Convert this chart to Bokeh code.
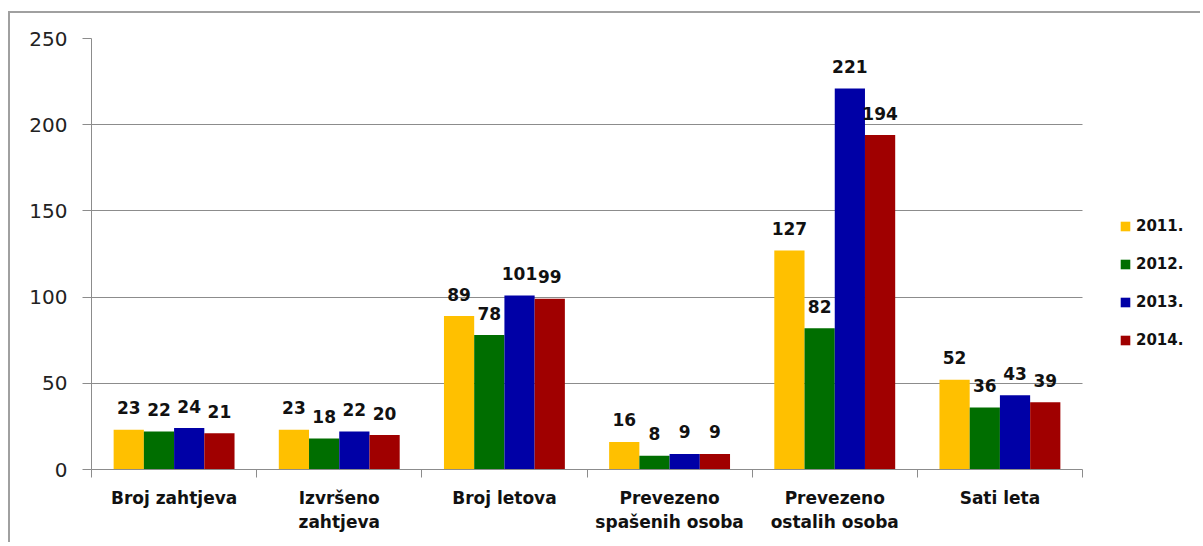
from bokeh.plotting import figure
from bokeh.models import (Range1d, FixedTicker, Legend, LegendItem, ColumnDataSource,
                          LinearAxis)
from bokeh.transform import dodge
from bokeh.embed import file_html
from bokeh.resources import INLINE
from bokeh.core.properties import value

categories = ["Broj zahtjeva", "Izvršeno\nzahtjeva", "Broj letova",
              "Prevezeno\nspašenih osoba", "Prevezeno\nostalih osoba", "Sati leta"]
years = ["2011.", "2012.", "2013.", "2014."]
v2011 = [23, 23, 89, 16, 127, 52]
v2012 = [22, 18, 78, 8, 82, 36]
v2013 = [24, 22, 101, 9, 221, 43]
v2014 = [21, 20, 99, 9, 194, 39]
y_ticks = [0, 50, 100, 150, 200, 250]

colors = ["#FFC000", "#006E00", "#0000A6", "#A00000"]

FONT = "DejaVu Sans"
n = len(categories)
centers = [i + 0.5 for i in range(n)]
src = ColumnDataSource(dict(x=centers, v2011=v2011, v2012=v2012, v2013=v2013, v2014=v2014,
                            t2011=[str(v) for v in v2011], t2012=[str(v) for v in v2012],
                            t2013=[str(v) for v in v2013], t2014=[str(v) for v in v2014]))

# frame spans the bar area (991 px) plus the legend strip on its right
W, H = 1192, 531
left, top, right_border, bottom = 81, 25, 4, 75
frame_w = W - left - right_border
bar_area_w = 991
x_end = n * frame_w / bar_area_w

p = figure(width=W, height=H, output_backend="svg", toolbar_location=None,
           x_range=Range1d(0, x_end), y_range=Range1d(0, 250),
           min_border_left=left, min_border_top=top, min_border_right=right_border,
           min_border_bottom=bottom, x_axis_type=None)
p.styles = {"border-left": "2px solid #a0a0a0", "border-top": "2px solid #a0a0a0",
            "margin-top": "11px", "margin-left": "8px"}
p.outline_line_color = None
p.background_fill_color = "white"
p.border_fill_color = "white"

w = 0.183
offsets = [-1.5 * w, -0.5 * w, 0.5 * w, 1.5 * w]
keys = ["2011", "2012", "2013", "2014"]
renderers = []
for k, off, c in zip(keys, offsets, colors):
    r = p.vbar(x=dodge("x", off, range=p.x_range), top="v" + k, width=w, source=src,
               fill_color=c, line_color=None)
    renderers.append(r)
    p.text(x=dodge("x", off, range=p.x_range), y="v" + k, text="t" + k, source=src,
           text_font=value(FONT), text_font_style="bold", text_font_size="17px",
           text_align="center", text_baseline="alphabetic", y_offset=-22, text_color="#111111")

# y axis
p.yaxis.ticker = FixedTicker(ticks=y_ticks)
p.yaxis.minor_tick_line_color = None
p.yaxis.major_tick_out = 9
p.yaxis.major_tick_in = 0
p.yaxis.major_label_standoff = 15
p.yaxis.major_label_text_font = FONT
p.yaxis.major_label_text_font_size = "20px"
p.yaxis.major_label_text_color = "#222222"
p.yaxis.axis_line_color = "#8c8c8c"
p.yaxis.major_tick_line_color = "#8c8c8c"
p.ygrid.ticker = FixedTicker(ticks=y_ticks)
p.ygrid.grid_line_color = "#8c8c8c"
p.ygrid.cross_bounds = (0, n)
p.xgrid.grid_line_color = None

# x axis
xa = LinearAxis(ticker=FixedTicker(ticks=centers, minor_ticks=list(range(n + 1))),
                bounds=(0, n))
xa.major_label_overrides = {c: lab for c, lab in zip(centers, categories)}
xa.major_tick_out = 0
xa.major_tick_in = 0
xa.minor_tick_out = 8
xa.minor_tick_in = 0
xa.minor_tick_line_color = "#8c8c8c"
xa.axis_line_color = "#8c8c8c"
xa.major_label_standoff = 10
xa.major_label_text_font = FONT
xa.major_label_text_font_style = "bold"
xa.major_label_text_font_size = "17px"
xa.major_label_text_color = "#111111"
p.add_layout(xa, "below")

legend = Legend(items=[LegendItem(label=y, renderers=[r]) for y, r in zip(years, renderers)],
                location=(1028, 119), orientation="vertical",
                glyph_width=12, glyph_height=12, label_height=20, spacing=18,
                label_standoff=5, padding=0, margin=0,
                label_text_font=FONT, label_text_font_style="bold",
                label_text_font_size="15px", label_text_color="#111111",
                border_line_color=None, background_fill_alpha=0)
p.add_layout(legend, "center")

open("out.html", "w").write(file_html(p, INLINE))
